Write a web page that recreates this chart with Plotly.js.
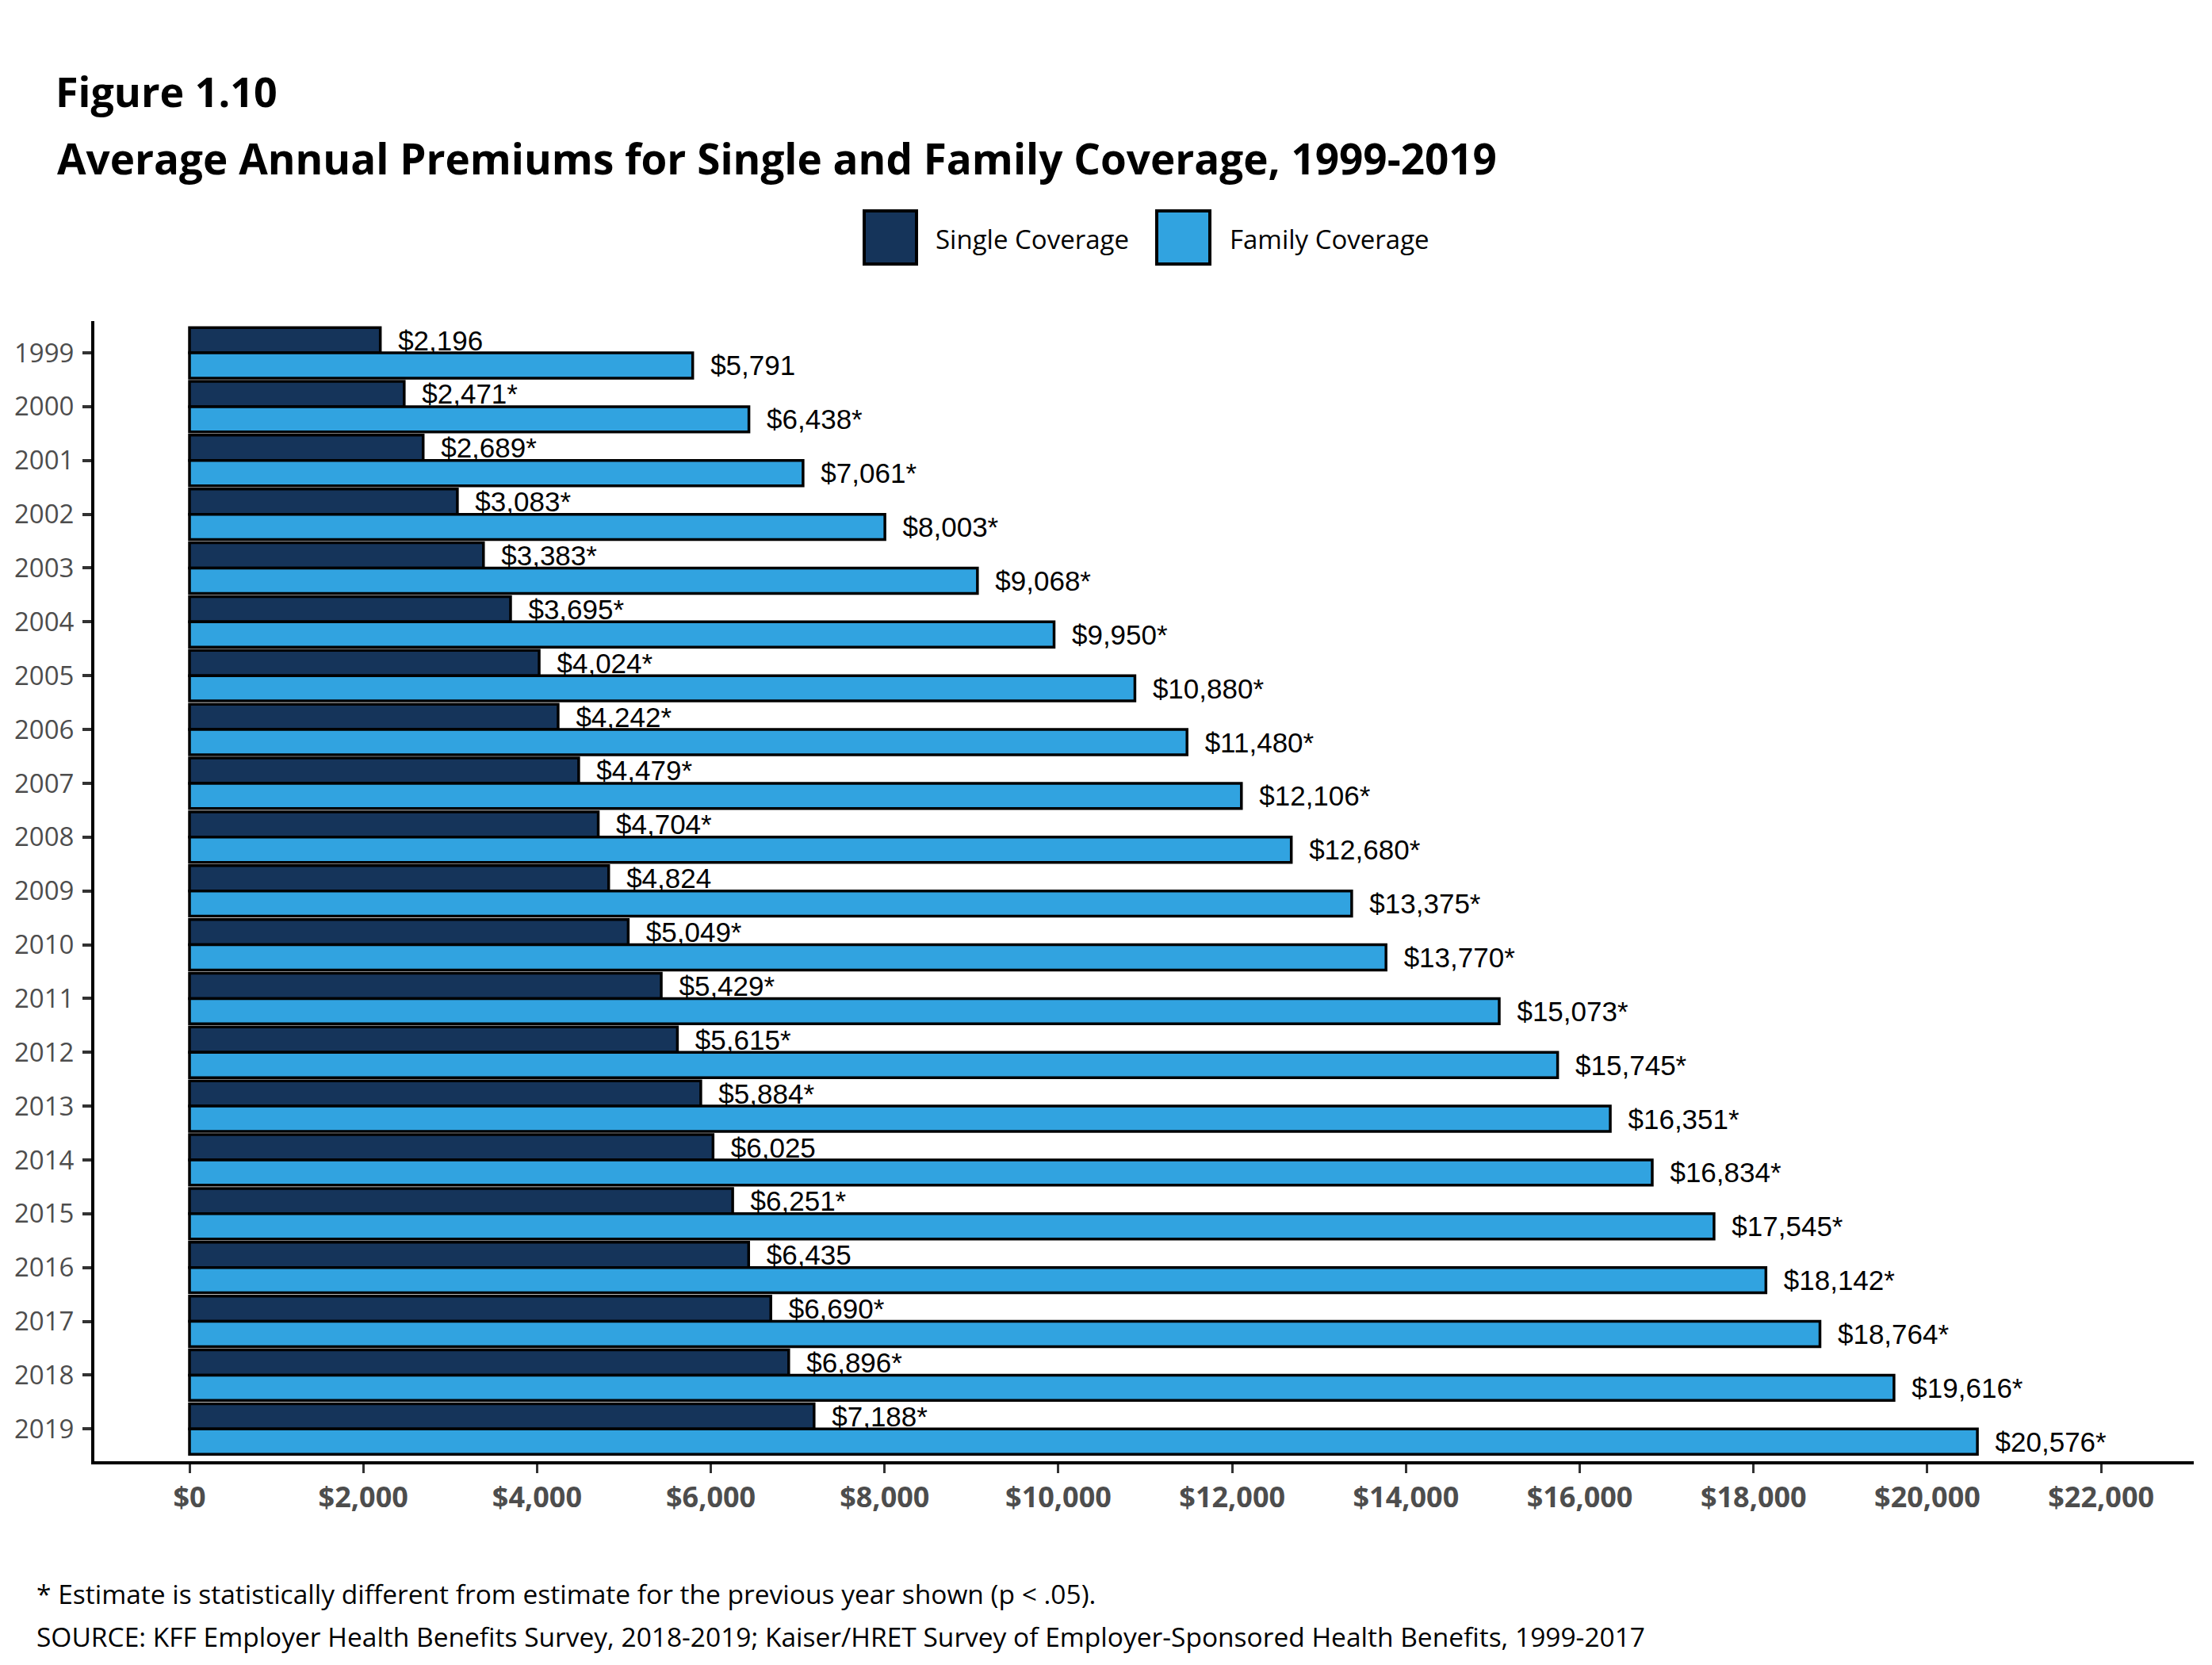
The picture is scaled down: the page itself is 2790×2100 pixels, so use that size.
<!DOCTYPE html>
<html>
<head>
<meta charset="utf-8">
<script src="https://cdn.plot.ly/plotly-3.0.1.min.js"></script>
<style>
  html, body { margin: 0; padding: 0; background: #fff; }
  #chart { width: 2790px; height: 2100px; }
</style>
</head>
<body>
<div id="chart"></div>
<script>
var years = ['1999', '2000', '2001', '2002', '2003', '2004', '2005', '2006', '2007', '2008',
  '2009', '2010', '2011', '2012', '2013', '2014', '2015', '2016', '2017', '2018', '2019']

var single = [2196, 2471, 2689, 3083, 3383, 3695, 4024, 4242, 4479, 4704,
  4824, 5049, 5429, 5615, 5884, 6025, 6251, 6435, 6690, 6896, 7188]
var singleStar = [0, 1, 1, 1, 1, 1, 1, 1, 1, 1, 0, 1, 1, 1, 1, 0, 1, 0, 1, 1, 1]

var family = [5791, 6438, 7061, 8003, 9068, 9950, 10880, 11480, 12106, 12680,
  13375, 13770, 15073, 15745, 16351, 16834, 17545, 18142, 18764, 19616, 20576]
var familyStar = [0, 1, 1, 1, 1, 1, 1, 1, 1, 1, 1, 1, 1, 1, 1, 1, 1, 1, 1, 1, 1]

var xTicks = [0, 2000, 4000, 6000, 8000, 10000, 12000, 14000, 16000, 18000, 20000, 22000]

var navy = '#15345a'
var blue = '#31a3e0'

function money(v) { return '$' + v.toLocaleString('en-US') }

function labels(vals, stars) {
  // nbsp pad so the label sits a little off the bar end
  return vals.map(function (v, i) {
    return '\u00A0\u00A0' + money(v) + (stars[i] ? '*' : '')
  })
}

var barText = {family: 'Liberation Sans, Arial, sans-serif', size: 35, color: '#000'}

var data = [
  {
    type: 'bar',
    orientation: 'h',
    name: 'Single Coverage',
    y: years,
    x: single,
    text: labels(single, singleStar),
    textposition: 'outside',
    constraintext: 'none',
    cliponaxis: false,
    textfont: barText,
    marker: {color: navy, line: {color: '#000', width: 3.5}},
    hoverinfo: 'x+y'
  },
  {
    type: 'bar',
    orientation: 'h',
    name: 'Family Coverage',
    y: years,
    x: family,
    text: labels(family, familyStar),
    textposition: 'outside',
    constraintext: 'none',
    cliponaxis: false,
    textfont: barText,
    marker: {color: blue, line: {color: '#000', width: 3.5}},
    hoverinfo: 'x+y'
  }
]

var W = 2790, H = 2100
var L = 119, R = 2767, T = 405, B = 1843
function px(x) { return (x - L) / (R - L) }
function py(y) { return (B - y) / (B - T) }

var myriad = 'Open Sans, Noto Sans, sans-serif'

var layout = {
  width: W,
  height: H,
  paper_bgcolor: '#fff',
  plot_bgcolor: '#fff',
  margin: {l: L, r: W - R, t: T, b: H - B, pad: 0},
  showlegend: false,
  barmode: 'group',
  bargap: 0.06,
  bargroupgap: 0,
  title: {
    text: '<b>Figure 1.10</b>',
    font: {family: myriad, size: 52, color: '#000'},
    xref: 'container', yref: 'container',
    x: 70 / W, xanchor: 'left',
    y: 1 - 117 / H, yanchor: 'middle'
  },
  xaxis: {
    range: [-1095, 23066],
    tickmode: 'array',
    tickvals: xTicks,
    ticktext: xTicks.map(money),
    showgrid: false,
    zeroline: false,
    showline: true,
    linecolor: '#000',
    linewidth: 4,
    ticks: 'outside',
    ticklen: 11,
    tickwidth: 3,
    tickcolor: '#333',
    ticklabelstandoff: 0,
    tickfont: {family: myriad, size: 36, color: '#4d4d4d', weight: 'bold'}
  },
  yaxis: {
    type: 'category',
    range: [20.6, -0.59],
    showgrid: false,
    zeroline: false,
    showline: true,
    linecolor: '#000',
    linewidth: 4,
    ticks: 'outside',
    ticklen: 11,
    tickwidth: 4,
    tickcolor: '#333',
    ticklabelstandoff: 4,
    tickfont: {family: myriad, size: 33, color: '#4d4d4d'}
  },
  shapes: [
    {type: 'rect', xref: 'paper', yref: 'paper',
      x0: px(1090), x1: px(1156), y0: py(333), y1: py(266),
      fillcolor: navy, line: {color: '#000', width: 4}},
    {type: 'rect', xref: 'paper', yref: 'paper',
      x0: px(1459), x1: px(1526), y0: py(333), y1: py(266),
      fillcolor: blue, line: {color: '#000', width: 4}}
  ],
  annotations: [
    {text: '<b>Average Annual Premiums for Single and Family Coverage, 1999-2019</b>',
      xref: 'paper', yref: 'paper', x: px(70), y: py(200),
      xanchor: 'left', yanchor: 'middle', showarrow: false,
      font: {family: myriad, size: 53, color: '#000'}},
    {text: 'Single Coverage', xref: 'paper', yref: 'paper', x: px(1178), y: py(302),
      xanchor: 'left', yanchor: 'middle', showarrow: false,
      font: {family: myriad, size: 33, color: '#000'}},
    {text: 'Family Coverage', xref: 'paper', yref: 'paper', x: px(1549), y: py(302),
      xanchor: 'left', yanchor: 'middle', showarrow: false,
      font: {family: myriad, size: 33, color: '#000'}},
    {text: '* Estimate is statistically different from estimate for the previous year shown (p < .05).',
      xref: 'paper', yref: 'paper', x: px(44), y: py(2010),
      xanchor: 'left', yanchor: 'middle', showarrow: false,
      font: {family: myriad, size: 33.5, color: '#000'}},
    {text: 'SOURCE: KFF Employer Health Benefits Survey, 2018-2019; Kaiser/HRET Survey of Employer-Sponsored Health Benefits, 1999-2017',
      xref: 'paper', yref: 'paper', x: px(44), y: py(2064),
      xanchor: 'left', yanchor: 'middle', showarrow: false,
      font: {family: myriad, size: 33.5, color: '#000'}}
  ]
}

Plotly.newPlot('chart', data, layout, {displayModeBar: false, staticPlot: true})
</script>
</body>
</html>
